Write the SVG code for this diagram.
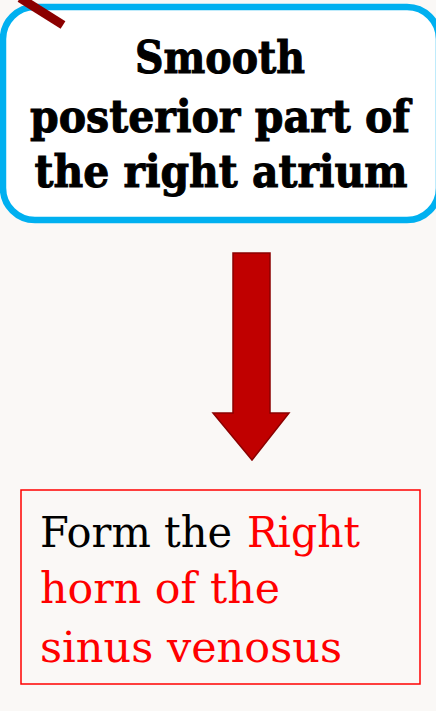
<svg xmlns="http://www.w3.org/2000/svg" width="436" height="711" viewBox="0 0 436 711">
<style>
.bg{fill:#FAF8F6}
.t1{font-family:"DejaVu Serif","Liberation Serif",serif;font-weight:bold;font-size:44px;fill:#000;stroke:#000;stroke-width:1;text-anchor:middle}
.t2{font-family:"DejaVu Serif","Liberation Serif",serif;font-size:42px}
.blk{fill:#000}
.red{fill:#FF0000}
</style>
<rect class="bg" x="0" y="0" width="436" height="711"/>
<g id="node-top">
<rect x="3" y="7" width="436" height="213" rx="32" ry="32" fill="#FFFFFF" stroke="#00B0F0" stroke-width="6.5"/>
<text class="t1" x="220" y="73" textLength="170" lengthAdjust="spacingAndGlyphs">Smooth</text>
<text class="t1" x="220" y="132" textLength="380" lengthAdjust="spacingAndGlyphs">posterior part of</text>
<text class="t1" x="221" y="187" textLength="373" lengthAdjust="spacingAndGlyphs">the right atrium</text>
</g>
<g id="decor">
<line x1="20" y1="-2" x2="63" y2="25" stroke="#8B0000" stroke-width="9"/>
</g>
<g id="connectors">
<path d="M233,253 H270 V413 H289 L252,460 L213,413 H233 Z" fill="#C00000" stroke="#8B0000" stroke-width="1.5" stroke-linejoin="miter"/>
</g>
<g id="node-bottom">
<rect x="21" y="490" width="399" height="194" fill="none" stroke="#FF0000" stroke-width="1.5"/>
<text class="t2 blk" x="40" y="547" textLength="192" lengthAdjust="spacingAndGlyphs">Form the</text>
<text class="t2 red" x="247" y="547" textLength="113" lengthAdjust="spacingAndGlyphs">Right</text>
<text class="t2 red" x="40" y="603" textLength="240" lengthAdjust="spacingAndGlyphs">horn of the</text>
<text class="t2 red" x="40" y="662" textLength="302" lengthAdjust="spacingAndGlyphs">sinus venosus</text>
</g>
</svg>
